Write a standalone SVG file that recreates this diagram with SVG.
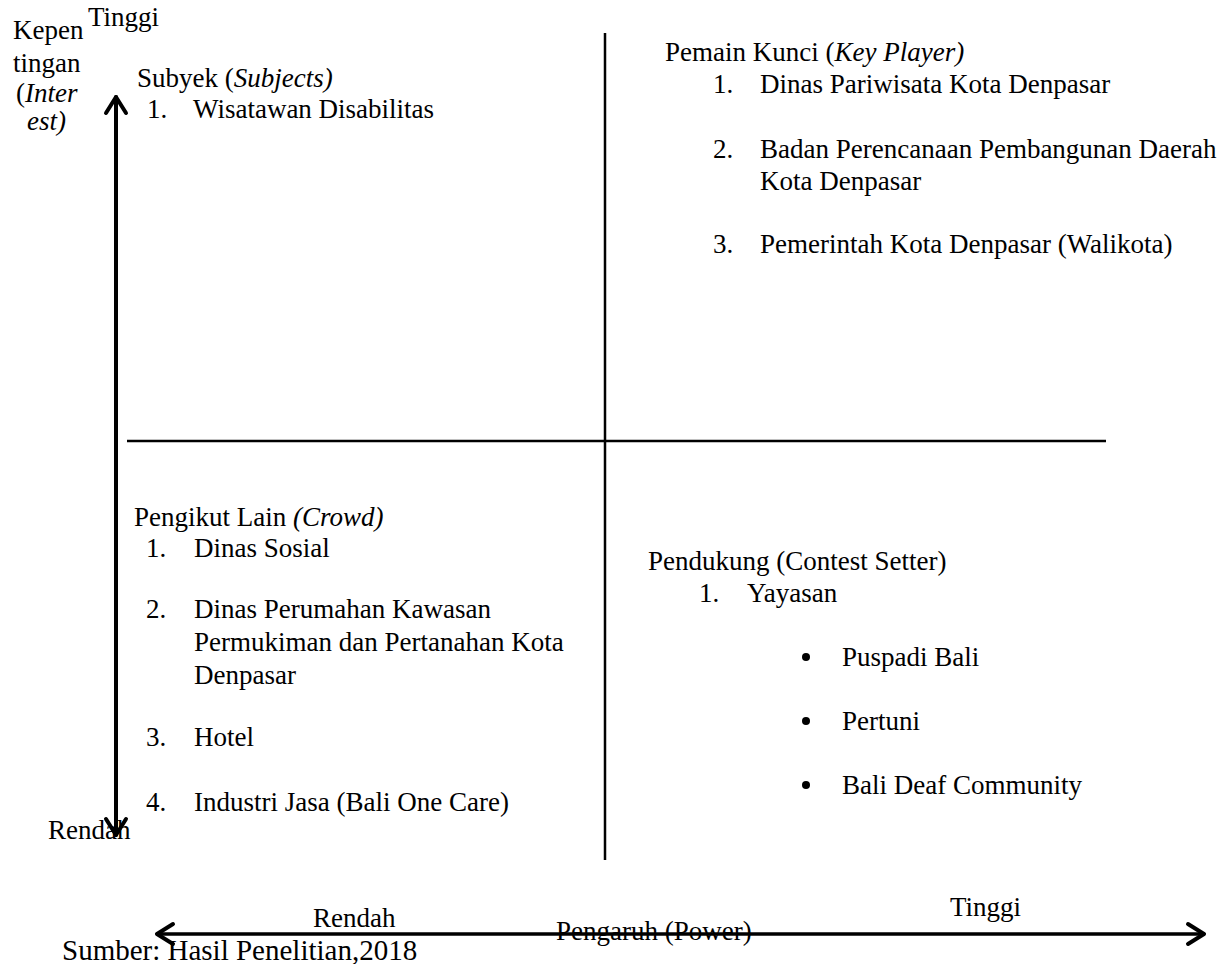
<svg xmlns="http://www.w3.org/2000/svg" width="1225" height="964" viewBox="0 0 1225 964">
<defs>
<style>
text{font-family:"Liberation Serif","Times New Roman",serif;font-size:27px;fill:#000}
.i{font-style:italic}
.ax{stroke:#000;stroke-width:4;fill:none;stroke-linecap:round;stroke-linejoin:round}
.q{stroke:#000;stroke-width:2.5;fill:none}
</style>
</defs>
<rect width="1225" height="964" fill="#fff"/>
<g id="connectors">
<line class="q" x1="605" y1="33" x2="605" y2="860"/>
<line class="q" x1="127" y1="441" x2="1106" y2="441"/>
<line class="ax" x1="116" y1="97" x2="116" y2="835"/>
<polyline class="ax" points="106,113 116,97 126,113"/>
<polyline class="ax" points="106,819 116,835 126,819"/>
<line class="ax" x1="157" y1="934" x2="1204" y2="934" style="stroke-width:3.5"/>
<polyline class="ax" points="173,924 157,934 173,944"/>
<polyline class="ax" points="1188,924 1204,934 1188,944"/>
</g>
<g id="axis-interest">
<text x="13" y="39">Kepen</text>
<text x="13" y="72">tingan</text>
<text x="16" y="102">(<tspan class="i">Inter</tspan></text>
<text x="27" y="130" class="i">est)</text>
<text x="88" y="26">Tinggi</text>
<text x="48" y="839">Rendah</text>
</g>
<g id="axis-power">
<text x="313" y="927">Rendah</text>
<text x="556" y="940">Pengaruh (Power)</text>
<text x="950" y="916">Tinggi</text>
</g>
<g id="subjects">
<text x="137" y="87">Subyek (<tspan class="i">Subjects)</tspan></text>
<text x="147" y="118">1.</text>
<text x="193" y="118">Wisatawan Disabilitas</text>
</g>
<g id="key-player">
<text x="665" y="61">Pemain Kunci (<tspan class="i">Key Player)</tspan></text>
<text x="713" y="93">1.</text>
<text x="760" y="93">Dinas Pariwisata Kota Denpasar</text>
<text x="713" y="158">2.</text>
<text x="760" y="158">Badan Perencanaan Pembangunan Daerah</text>
<text x="760" y="190">Kota Denpasar</text>
<text x="713" y="253">3.</text>
<text x="760" y="253">Pemerintah Kota Denpasar (Walikota)</text>
</g>
<g id="crowd">
<text x="134" y="526">Pengikut Lain <tspan class="i">(Crowd)</tspan></text>
<text x="146" y="557">1.</text>
<text x="194" y="557">Dinas Sosial</text>
<text x="146" y="618">2.</text>
<text x="194" y="618">Dinas Perumahan Kawasan</text>
<text x="194" y="651">Permukiman dan Pertanahan Kota</text>
<text x="194" y="684">Denpasar</text>
<text x="146" y="746">3.</text>
<text x="194" y="746">Hotel</text>
<text x="146" y="811">4.</text>
<text x="194" y="811">Industri Jasa (Bali One Care)</text>
</g>
<g id="context-setter">
<text x="648" y="570">Pendukung (Contest Setter)</text>
<text x="699" y="602">1.</text>
<text x="747" y="602">Yayasan</text>
<circle cx="806" cy="657" r="4"/>
<text x="842" y="666">Puspadi Bali</text>
<circle cx="806" cy="721" r="4"/>
<text x="842" y="730">Pertuni</text>
<circle cx="806" cy="785" r="4"/>
<text x="842" y="794">Bali Deaf Community</text>
</g>
<g id="source">
<text x="62" y="960" style="font-size:29px">Sumber: Hasil Penelitian,2018</text>
</g>
</svg>
